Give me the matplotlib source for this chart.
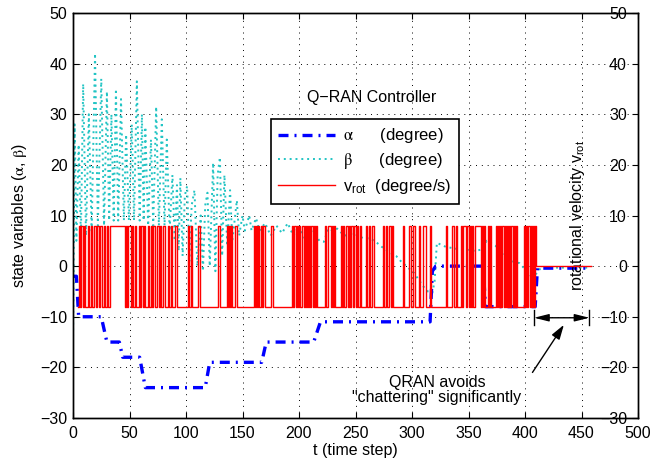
import numpy as np
import matplotlib
matplotlib.use('Agg')
import matplotlib.pyplot as plt

# configuración
plt.rcParams['font.family'] = ['Liberation Sans', 'DejaVu Sans']
plt.rcParams['mathtext.fontset'] = 'stix'
plt.rcParams['font.size'] = 11

# alpha (degree): tramos
alpha_t = [0, 3, 5, 25, 30, 41, 44, 59, 64, 117, 121, 167, 171, 213, 219,
           316, 318, 321, 363, 365, 409, 411, 458]
alpha_v = [-2, -2, -10, -10, -15, -15, -18, -18, -24, -24, -19, -19, -15, -15, -11,
           -11, -1, 0, 0, -8, -8, -0.4, -0.4]

# beta (degree): picos y valles aproximados
beta_t = [0, 1.5, 3, 5, 7, 9, 11.5, 14, 16.5, 19.5, 22, 25, 27.5, 30, 32, 34, 36, 38, 40,
          42.5, 45, 47, 49.5, 52, 54, 56.5, 59, 61, 62.5, 64, 66.5, 69, 71, 73.6, 76,
          78.6, 81, 83, 85.5, 88, 90, 92, 93.5, 95, 97, 99, 101, 103, 105, 107.5, 110,
          113, 115, 117, 119, 121, 124, 126, 128, 130, 132, 134, 136.5, 139, 141, 145,
          147, 150, 152, 156, 158, 162, 165, 170, 175, 180, 185, 190, 195, 200, 205,
          210, 214, 218, 222, 226, 230, 234, 240, 248, 257, 263, 269, 275, 281, 286,
          290, 297, 302, 305, 310, 314, 318, 320, 322, 330, 340, 350, 356, 362, 366,
          374, 380, 388, 395, 400, 405, 410, 413, 420, 458]
beta_v = [-15, 28, 5, 24, 6, 36, 6, 30, 7, 42, 8, 37, 8, 34.5, 9, 30, 9, 35, 9,
          33, 9, 26, 9, 28, 9, 36.5, 9, 30, 9, 27.5, 8, 25, 8, 31.5, 8,
          29, 8, 25, 7, 18, 5, 16, 3, 17.4, 2, 14, 15.8, 1, 12, 15, 0,
          10, -1, 12, 14.5, 0, 20.4, -1, 18, 21.5, 2, 18, 4, 15, 5, 13,
          6, 10, 7, 10, 7, 9.5, 7, 8.5, 6, 8, 6.5, 8.5, 6, 8, 5.5,
          7, 6.5, 5, 4.8, 7.4, 7, 7.4, 6, 6.5, 5.5, 5.5, 4.6, 3.5, 2.6, 2,
          1, -0.4, -1.4, -2.4, -4, -5, -5.3, -3, 4.6, 3.8, 3.4, 3.2, 3, 3.3, 5,
          4, 2.8, 1, 0.6, -0.6, -1.9, -1.5, -0.6, -0.3, -0.3]

# v_rot (degree/s): bang-bang, intervalos en +8, el resto en -8, luego 0
vrot_start, vrot_stop, vrot_end = 4, 410, 458
vrot_level = 8
vrot_pulses = [(5, 6), (7, 9), (10, 11), (13, 14), (16, 17), (19, 20), (21, 23), (24, 26),
               (27, 28), (30, 31), (33, 46),
               (47, 48), (49, 51), (52, 53), (55, 56), (58, 59), (60, 62), (63, 64), (66, 67),
               (69, 70), (71, 73), (74, 76), (77, 78), (80, 81),
               (84, 85), (87, 88), (90, 92), (102, 103), (104, 105), (111, 112), (128, 130),
               (136, 137), (138, 139), (140, 141), (143, 145),
               (160, 161), (162, 163), (164, 165), (166, 167), (168, 170), (175, 177),
               (194, 195), (196, 197), (198, 199), (200, 201), (203, 204), (205, 206),
               (207, 208), (209, 210), (211, 212), (213, 214), (215, 216),
               (223, 224), (226, 228), (229, 230), (231, 232),
               (237, 238), (239, 240), (242, 243), (244, 245), (246, 248), (249, 250),
               (251, 252), (254, 255), (259, 260), (262, 263), (265, 266),
               (274, 275), (277, 278), (280, 281), (282, 283),
               (292, 293), (297, 299), (301, 303), (306, 307), (310, 312), (316, 317),
               (330, 331), (335, 337), (339, 340), (343, 344), (345, 348), (349, 350),
               (351, 352), (353, 354), (356, 361), (362, 363), (364, 365), (367, 368),
               (369, 370), (374, 375), (376, 377), (378, 379), (380, 381), (382, 383),
               (384, 385), (386, 387), (388, 389), (390, 391), (392, 393),
               (399, 400), (401, 402), (403, 404), (405, 406), (407, 408), (409, 410)]

x_ticks = np.arange(0, 501, 50)
y_ticks = np.arange(-30, 51, 10)

# anotacion
chatter_span = (408, 457)
chatter_y = -10.2
note_xy = (322, -24.5)
arrow_from = (406.6, -21.0)
arrow_to = (434.4, -11.6)

# construir la señal escalonada de v_rot
steps = np.arange(vrot_start, vrot_stop)
vrot = np.full(len(steps), -vrot_level, dtype=float)
for a, b in vrot_pulses:
    vrot[(steps >= a) & (steps < b)] = vrot_level
t_red = np.append(steps, [vrot_stop, vrot_end])
v_red = np.append(vrot, [0, 0])

fig = plt.figure(figsize=(6.54, 4.63), dpi=100)
ax = fig.add_axes([73 / 654, 1 - 418 / 463, 565 / 654, 405 / 463])
ax2 = ax.twinx()

l_beta, = ax.plot(beta_t, beta_v, color='#22c4c4', lw=1.4, linestyle=(0, (1.0, 2.0)))
l_alpha, = ax.plot(alpha_t, alpha_v, color='#0000ff', lw=2.4,
                   linestyle=(0, (3.0, 1.8, 0.6, 1.8)), dash_capstyle='butt')
l_vrot, = ax2.plot(t_red, v_red, color='red', lw=1.0, drawstyle='steps-post')

for a in (ax, ax2):
    a.set_xlim(0, 500)
    a.set_ylim(-30, 50)
    a.set_yticks(y_ticks)
ax.set_xticks(x_ticks)

ax.grid(True, color='k', lw=0.7, linestyle=(0, (1, 5)))
ax.tick_params(direction='in', length=4, top=True, right=False, pad=4, labelsize=11.5)
ax.tick_params(axis='x', pad=6)
ax2.tick_params(axis='y', direction='in', length=4, pad=-8, labelsize=11.5)
for lab in ax2.get_yticklabels():
    lab.set_horizontalalignment('right')

for s in list(ax.spines.values()) + list(ax2.spines.values()):
    s.set_linewidth(1.0)

ax.set_xlabel('t (time step)', fontsize=11.5, labelpad=1)
ax.set_ylabel(r'state variables ($\mathrm{\alpha}$, $\mathrm{\beta}$)', fontsize=11.5)
ax.yaxis.set_label_coords(-0.078, 0.5)
ax2.set_ylabel(r'rotational velocity $\mathregular{v_{rot}}$', fontsize=11.5)
ax2.yaxis.set_label_coords(0.876, 0.5)

ax.text(264, 33.3, 'Q\u2212RAN Controller', ha='center', va='center', fontsize=11.5)

labels = [r'$\mathrm{\alpha}$      (degree)', r'$\mathrm{\beta}$      (degree)',
          r'$\mathregular{v_{rot}}$  (degree/s)']
leg = ax2.legend([l_alpha, l_beta, l_vrot], labels, loc='upper left',
                 bbox_to_anchor=(0.3504, 0.7383), borderaxespad=0, frameon=True,
                 fancybox=False, edgecolor='k', framealpha=1, handlelength=3.4,
                 handletextpad=0.45, borderpad=0.45, labelspacing=0.35, fontsize=12)
leg.get_frame().set_linewidth(1.2)

# flecha doble y topes
ax2.annotate('', xy=(chatter_span[0], chatter_y), xytext=(chatter_span[1], chatter_y),
             arrowprops=dict(arrowstyle='<|-|>,head_length=0.8,head_width=0.2',
                             color='k', lw=1.0, shrinkA=0, shrinkB=0))
for xc in chatter_span:
    ax2.plot([xc, xc], [chatter_y + 1.5, chatter_y - 1.5], color='k', lw=1.0)
ax2.annotate('', xy=arrow_to, xytext=arrow_from,
             arrowprops=dict(arrowstyle='-|>,head_length=0.8,head_width=0.25',
                             color='k', lw=1.0, shrinkA=0, shrinkB=0))
ax2.text(note_xy[0], note_xy[1], 'QRAN avoids\n"chattering" significantly',
         ha='center', va='center', fontsize=11.5, linespacing=1.05)

fig.savefig('out.png', dpi=100)
